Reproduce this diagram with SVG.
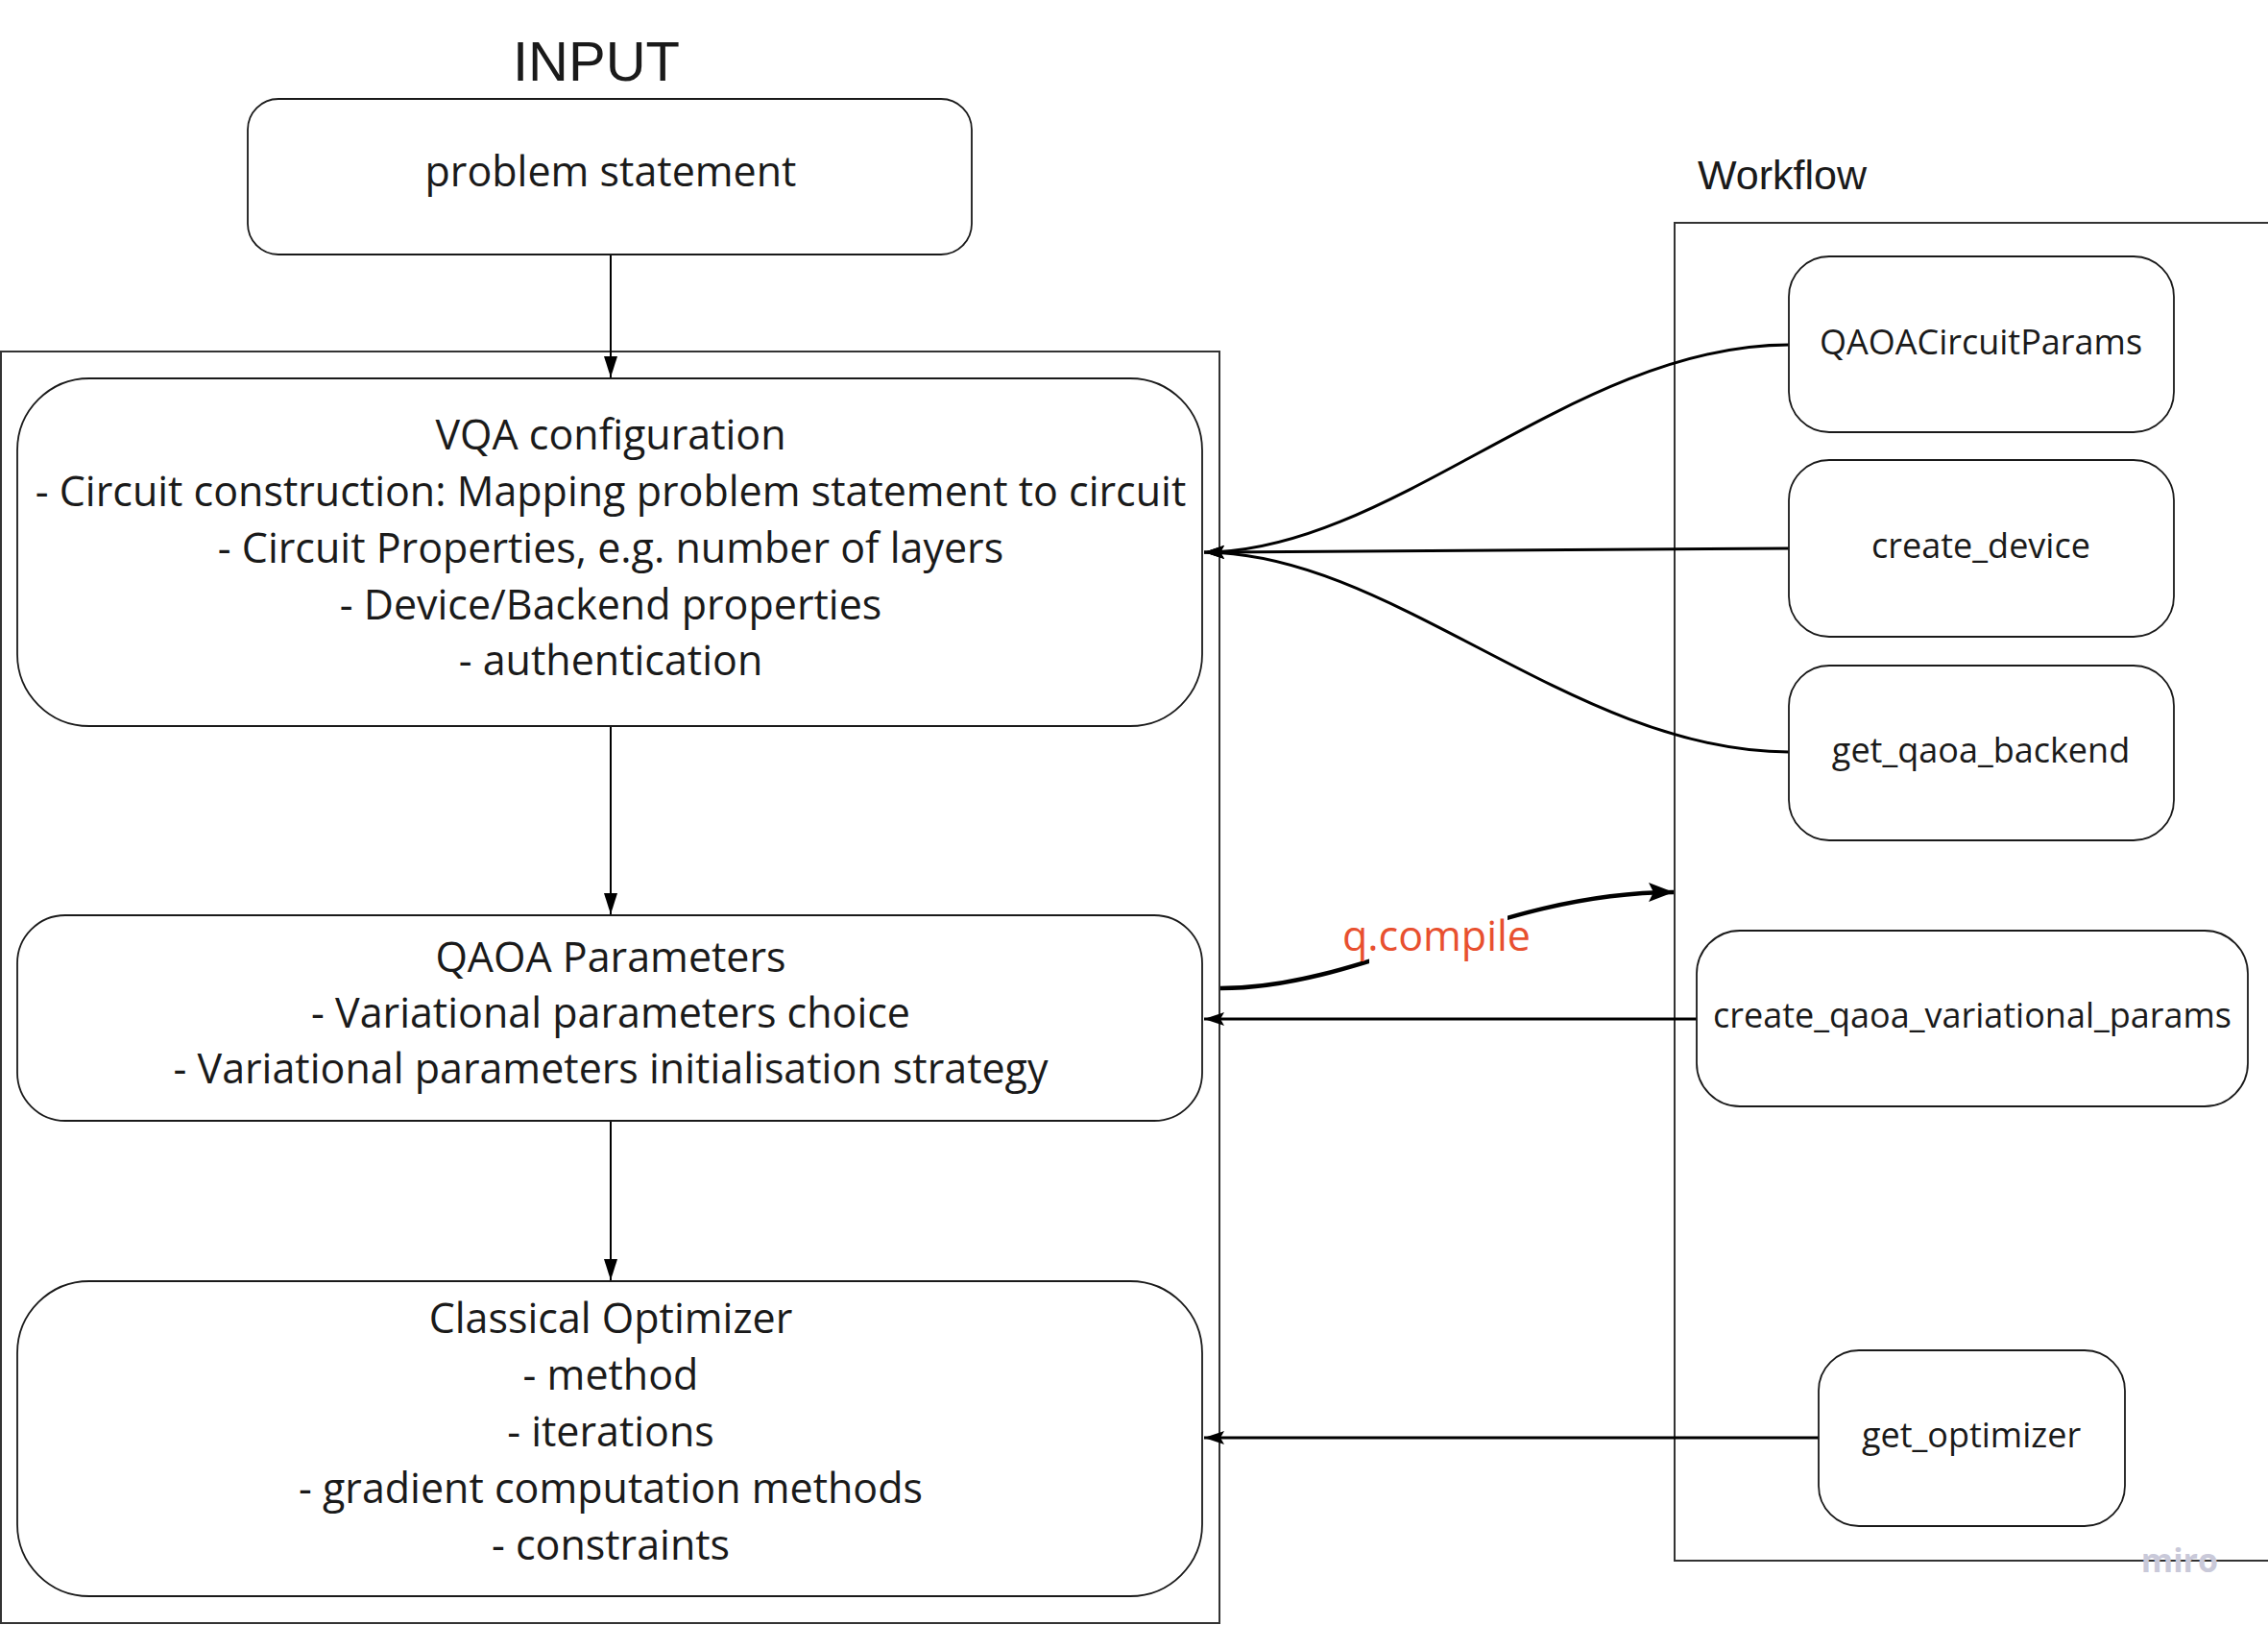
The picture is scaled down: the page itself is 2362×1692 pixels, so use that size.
<svg xmlns="http://www.w3.org/2000/svg" width="2362" height="1692" viewBox="0 0 2362 1692">
<defs>
<style>
.t{font-family:"Open Sans","Liberation Sans",sans-serif;fill:#1a1a1a;text-anchor:middle}
.big{font-size:43px}
.sm{font-size:36px}
.hd{font-family:"Liberation Sans",Arial,sans-serif;fill:#1a1a1a}
.box{fill:#fff;stroke:#1a1a1a;stroke-width:1.8}
.cont{fill:none;stroke:#333;stroke-width:2}
.c1{fill:none;stroke:#000;stroke-width:2}
.c2{fill:none;stroke:#000;stroke-width:3}
.c3{fill:none;stroke:#000;stroke-width:4.5}
</style>
<marker id="ah1" markerUnits="userSpaceOnUse" markerWidth="24" markerHeight="16" refX="22" refY="7" orient="auto">
<path d="M0,0 L22,7 L0,14 Z" fill="#000"/>
</marker>
<marker id="ah2" markerUnits="userSpaceOnUse" markerWidth="24" markerHeight="16" refX="21" refY="7" orient="auto">
<path d="M0,0 L21,7 L0,14 L4,7 Z" fill="#000"/>
</marker>
<marker id="ah3" markerUnits="userSpaceOnUse" markerWidth="28" markerHeight="22" refX="26" refY="10" orient="auto">
<path d="M0,0 L26,10 L0,20 L5,10 Z" fill="#000"/>
</marker>
</defs>
<rect width="2362" height="1692" fill="#fff"/>

<g id="containers">
<rect class="cont" x="1" y="366" width="1269" height="1324"/>
<rect class="cont" x="1744" y="232" width="650" height="1393"/>
</g>

<g id="titles">
<text class="hd" x="621" y="84" font-size="58" text-anchor="middle">INPUT</text>
<text class="hd" x="1768" y="197" font-size="43">Workflow</text>
</g>

<g id="connectors">
<line class="c1" x1="636" y1="265" x2="636" y2="393" marker-end="url(#ah1)"/>
<line class="c1" x1="636" y1="756" x2="636" y2="952" marker-end="url(#ah1)"/>
<line class="c1" x1="636" y1="1167" x2="636" y2="1333" marker-end="url(#ah1)"/>
<path class="c2" d="M1863,359 C1640,359 1450,575 1254,575" marker-end="url(#ah2)"/>
<path class="c2" d="M1863,571 L1254,575" marker-end="url(#ah2)"/>
<path class="c2" d="M1863,783 C1640,783 1450,575 1254,575" marker-end="url(#ah2)"/>
<path class="c2" d="M1767,1061 L1254,1061" marker-end="url(#ah2)"/>
<path class="c2" d="M1894,1497 L1254,1497" marker-end="url(#ah2)"/>
<path class="c3" d="M1271,1029 C1420,1029 1560,929 1743,929" marker-end="url(#ah3)"/>
<rect x="1426" y="950" width="144" height="58" fill="#fff"/>
<text x="1496" y="990" font-family="'Open Sans','Liberation Sans',sans-serif" font-size="43" fill="#e8502f" text-anchor="middle">q.compile</text>
</g>

<g id="problem-statement">
<rect class="box" x="258" y="103" width="754" height="162" rx="32"/>
<text class="t big" x="636" y="194">problem statement</text>
</g>

<g id="vqa-configuration">
<rect class="box" x="18" y="394" width="1234" height="362" rx="75"/>
<text class="t big" x="636" y="468">VQA configuration</text>
<text class="t big" x="636" y="527">- Circuit construction: Mapping problem statement to circuit</text>
<text class="t big" x="636" y="586">- Circuit Properties, e.g. number of layers</text>
<text class="t big" x="636" y="645">- Device/Backend properties</text>
<text class="t big" x="636" y="703">- authentication</text>
</g>

<g id="qaoa-parameters">
<rect class="box" x="18" y="953" width="1234" height="214" rx="50"/>
<text class="t big" x="636" y="1012">QAOA Parameters</text>
<text class="t big" x="636" y="1070">- Variational parameters choice</text>
<text class="t big" x="636" y="1128">- Variational parameters initialisation strategy</text>
</g>

<g id="classical-optimizer">
<rect class="box" x="18" y="1334" width="1234" height="328" rx="75"/>
<text class="t big" x="636" y="1388">Classical Optimizer</text>
<text class="t big" x="636" y="1447">- method</text>
<text class="t big" x="636" y="1506">- iterations</text>
<text class="t big" x="636" y="1565">- gradient computation methods</text>
<text class="t big" x="636" y="1624">- constraints</text>
</g>

<g id="qaoa-circuit-params">
<rect class="box" x="1863" y="267" width="401" height="183" rx="42"/>
<text class="t sm" x="2063" y="369">QAOACircuitParams</text>
</g>
<g id="create-device">
<rect class="box" x="1863" y="479" width="401" height="184" rx="42"/>
<text class="t sm" x="2063" y="581">create_device</text>
</g>
<g id="get-qaoa-backend">
<rect class="box" x="1863" y="693" width="401" height="182" rx="42"/>
<text class="t sm" x="2063" y="794">get_qaoa_backend</text>
</g>
<g id="create-qaoa-variational-params">
<rect class="box" x="1767" y="969" width="574" height="183" rx="45"/>
<text class="t sm" x="2054" y="1070">create_qaoa_variational_params</text>
</g>
<g id="get-optimizer">
<rect class="box" x="1894" y="1406" width="319" height="183" rx="42"/>
<text class="t sm" x="2053" y="1507">get_optimizer</text>
</g>

<text x="2270" y="1637" font-family="'Open Sans','Liberation Sans',sans-serif" font-weight="bold" font-size="34" fill="#c9c9d9" text-anchor="middle">miro</text>
</svg>
